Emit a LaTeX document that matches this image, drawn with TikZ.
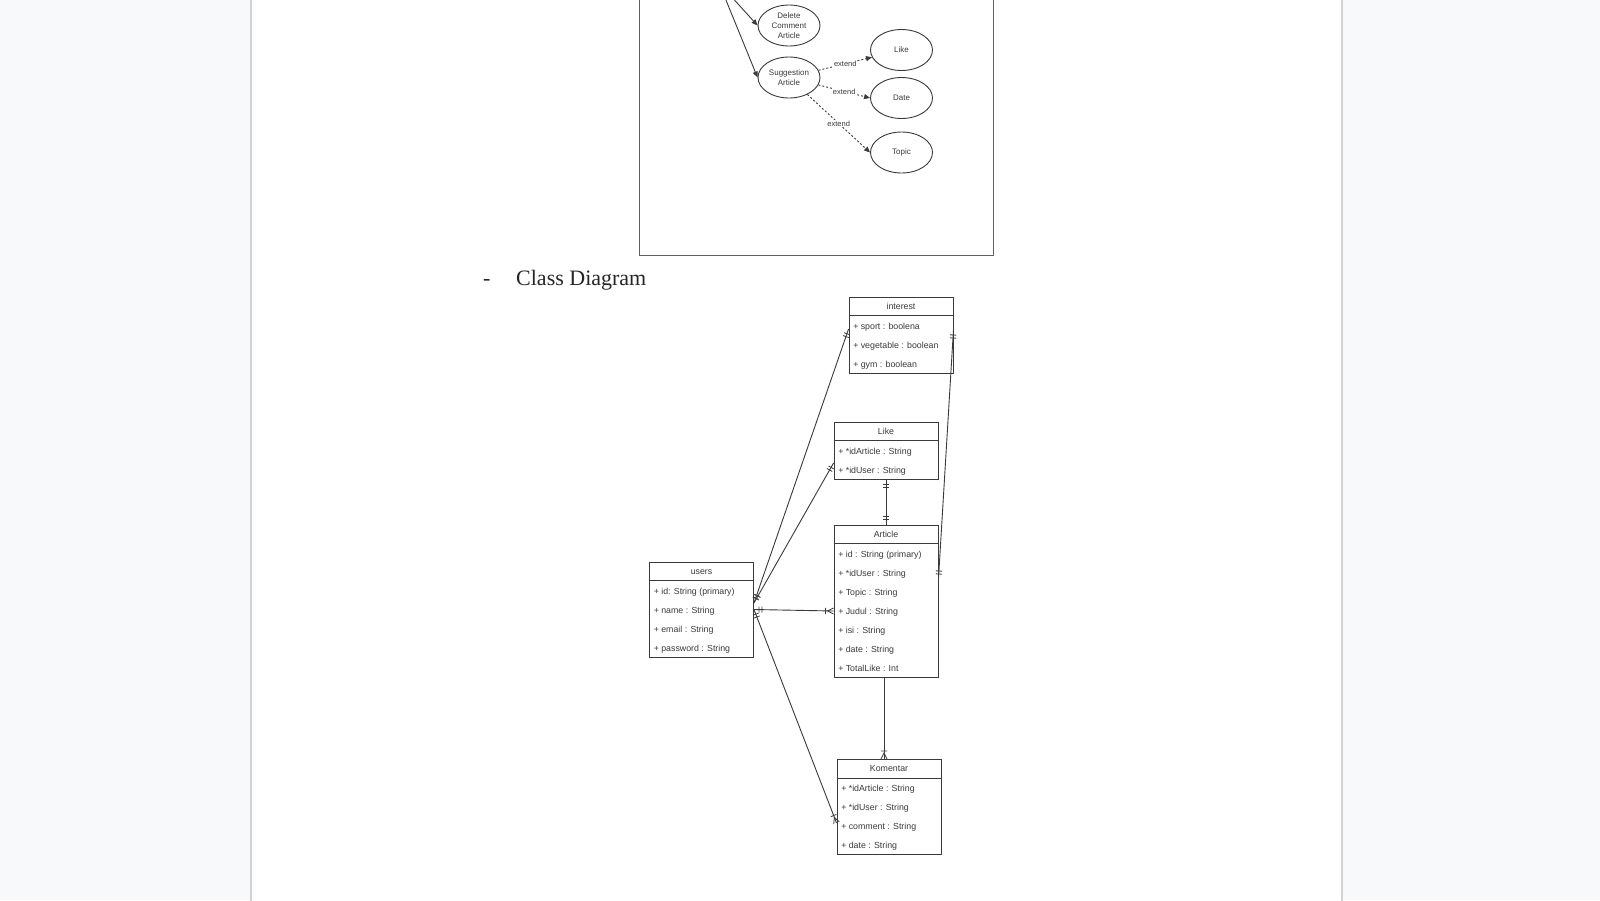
\documentclass[tikz,border=0pt]{standalone}
\usepackage{fontspec}
\setmainfont{Liberation Serif}
\newfontfamily\diagfont{Liberation Sans}
\usetikzlibrary{shapes.geometric,arrows.meta,decorations.markings,calc}

\definecolor{pagebg}{HTML}{F8F9FA}
\definecolor{pageedge}{HTML}{D2D2D2}
\definecolor{ink}{HTML}{3A3A3A}

\tikzstyle{usecase}=[draw=ink, line width=0.9pt, ellipse, minimum width=62, minimum height=41, inner sep=0pt, align=center, text=ink, font=\diagfont\fontsize{8}{10}\selectfont]
\tikzstyle{assoc}=[draw=ink, line width=0.9pt, -{Triangle[length=6pt,width=5pt]}]
\tikzstyle{extend}=[assoc, dash pattern=on 2pt off 2pt]
\tikzstyle{stereo}=[fill=white, inner sep=0.5pt, text=ink, font=\diagfont\fontsize{7.5}{9}\selectfont]
\tikzstyle{classbox}=[draw=ink, line width=0.9pt, rectangle, minimum width=104, inner sep=0pt]
\tikzstyle{classtitle}=[anchor=base, inner sep=0pt, text=ink, font=\diagfont\fontsize{8.8}{10}\selectfont]
\tikzstyle{attr}=[anchor=base west, inner sep=0pt, text=ink, font=\diagfont\fontsize{8.8}{10}\selectfont]
\tikzstyle{rel}=[draw=ink, line width=0.9pt]
\tikzstyle{markline}=[draw=ink, line width=0.8pt]
\tikzstyle{mandstart}=[postaction={decorate, decoration={markings,
    mark=at position 5pt with {\path[markline] (0,-3pt) -- (0,3pt);},
    mark=at position 8pt with {\path[markline] (0,-3pt) -- (0,3pt);}}}]
\tikzstyle{mandend}=[postaction={decorate, decoration={markings,
    mark=at position -5pt with {\path[markline] (0,-3pt) -- (0,3pt);},
    mark=at position -8pt with {\path[markline] (0,-3pt) -- (0,3pt);}}}]
\tikzstyle{manyend}=[postaction={decorate, decoration={markings,
    mark=at position -0.01pt with {\path[markline] (0,-3pt) -- (-6pt,0) -- (0,3pt) (-8pt,-3pt) -- (-8pt,3pt);}}}]

\begin{document}
\begin{tikzpicture}[x=1pt, y=-1pt]
    % page and margins
    \useasboundingbox (0,0) rectangle (1600,900);
    \clip (0,0) rectangle (1600,900);
    \fill[pagebg] (0,0) rectangle (1600,900);
    \draw[pageedge, fill=white, line width=1.5pt] (251,-5) rectangle (1342,905);

    % what is left of the use case diagram
    \draw[ink!80, line width=0.9pt] (639,-5) rectangle (993,255);
    \coordinate (actor) at (719,-17);
    \foreach \pos/\name/\txt in {{(789,25.5)/delc/Delete\\Comment\\Article}, {(789,77.5)/sugg/Suggestion\\Article},
        {(901.5,50)/uclike/Like}, {(901.5,98)/ucdate/Date}, {(901.5,152.5)/uctopic/Topic}}
        \node[usecase] (\name) at \pos {\txt};
    \path[assoc] (actor) -- (delc.west);
    \path[assoc] (actor) -- (sugg.west);
    \path[extend] (sugg) -- node[stereo] {extend} (uclike);
    \path[extend] (sugg) -- node[stereo] {extend} (ucdate.west);
    \path[extend] (sugg) -- node[stereo] {extend} (uctopic.west);

    % heading
    \node[anchor=base west, inner sep=0pt, text=black!85, font=\fontsize{22}{26}\selectfont] (dash) at (483,285) {-};
    \node[anchor=base west, inner sep=0pt, text=black!85, font=\fontsize{22}{26}\selectfont] (heading) at (516,285) {Class Diagram};

    % class boxes with their title bar
    \foreach \name/\pos/\ht/\title in {{interest/(901,335)/76/interest}, {like/(886,450.5)/57/Like},
        {article/(886,601)/152/Article}, {users/(701.5,609.5)/95/users}, {komentar/(889,807)/95/Komentar}}
    {
        \node[classbox, minimum height=\ht] (\name) at \pos {};
        \node[classtitle] (\name-title) at ($(\name.north)+(0,12.7)$) {\title};
        \draw[ink, line width=0.9pt] ($(\name.north west)+(0,19)$) -- ($(\name.north east)+(0,19)$);
    }

    % attributes
    \foreach \i/\txt in {1/+ sport : boolena, 2/+ vegetable : boolean, 3/+ gym : boolean}
        \node[attr] at ($(interest.north west)+(4.5,13.7+19*\i)$) {\txt};
    \foreach \i/\txt in {1/+ *idArticle : String, 2/+ *idUser : String}
        \node[attr] at ($(like.north west)+(4.5,13.7+19*\i)$) {\txt};
    \foreach \i/\txt in {1/+ id : String (primary), 2/+ *idUser : String, 3/+ Topic : String, 4/+ Judul : String,
        5/+ isi : String, 6/+ date : String, 7/+ TotalLike : Int}
        \node[attr] at ($(article.north west)+(4.5,13.7+19*\i)$) {\txt};
    \foreach \i/\txt in {1/+ id: String (primary), 2/+ name : String, 3/+ email : String, 4/+ password : String}
        \node[attr] at ($(users.north west)+(4.5,13.7+19*\i)$) {\txt};
    \foreach \i/\txt in {1/+ *idArticle : String, 2/+ *idUser : String, 3/+ comment : String, 4/+ date : String}
        \node[attr] at ($(komentar.north west)+(4.5,13.7+19*\i)$) {\txt};

    % relations
    \path[rel, mandstart, mandend] ([yshift=6.5pt]users.east) -- ([yshift=6pt]interest.west);
    \path[rel, mandstart, mandend] ([yshift=6.5pt]users.east) -- ([yshift=-12.5pt]like.west);
    \path[rel, mandstart, manyend] (users.east) -- ([yshift=-10pt]article.west);
    \path[rel, mandstart, manyend] (users.east) -- ([yshift=-16pt]komentar.west);
    \path[rel, mandstart, mandend] (like.south) -- (article.north);
    \path[rel, mandstart, mandend] ([yshift=5pt]interest.east) -- ([yshift=22pt]article.east);
    \path[rel, manyend] ([xshift=-2pt]article.south) -- ([xshift=-5pt]komentar.north);
\end{tikzpicture}
\end{document}
